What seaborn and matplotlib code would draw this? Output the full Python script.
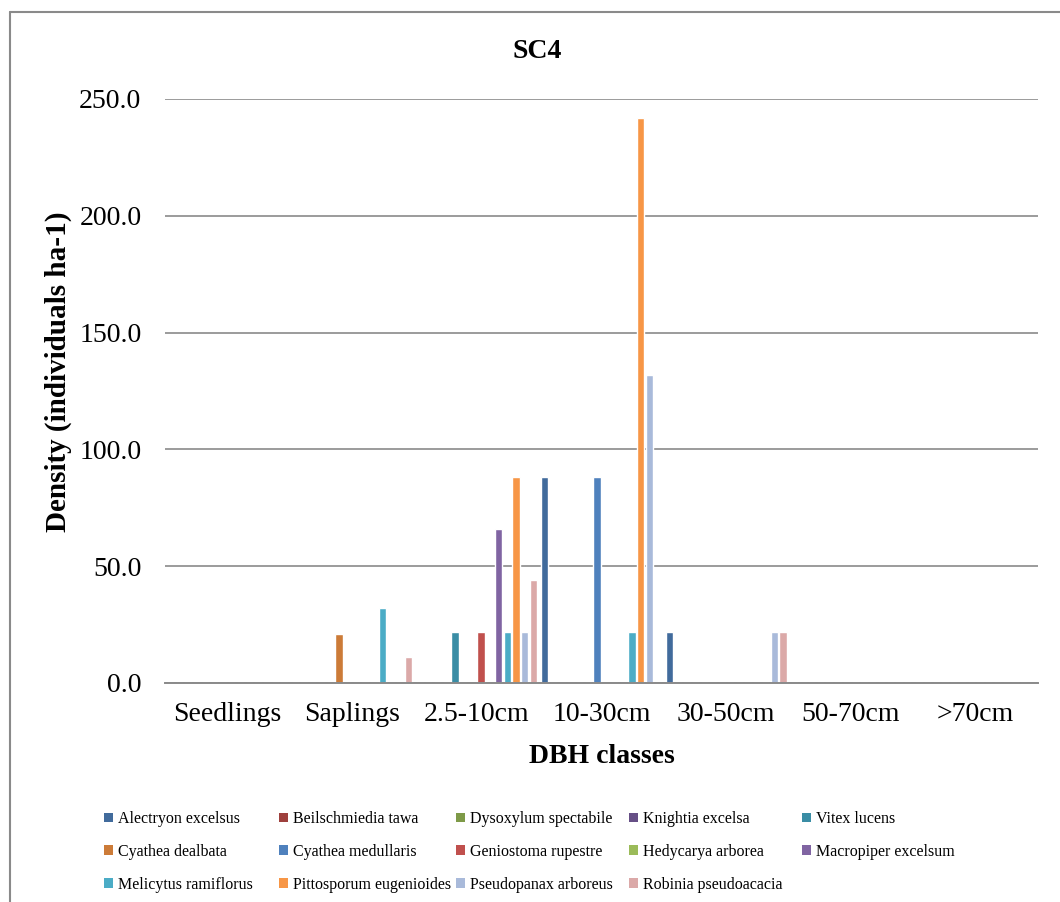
import matplotlib
matplotlib.use("Agg")
import matplotlib.pyplot as plt
from matplotlib.patches import Patch
from matplotlib.ticker import StrMethodFormatter
import pandas as pd
import seaborn as sns

# DBH classes on the x axis
classes = ["Seedlings", "Saplings", "2.5-10cm", "10-30cm", "30-50cm", "50-70cm", ">70cm"]

# Species (series order)
species = [
    "Alectryon excelsus", "Beilschmiedia tawa", "Dysoxylum spectabile",
    "Knightia excelsa", "Vitex lucens", "Cyathea dealbata",
    "Cyathea medullaris", "Geniostoma rupestre", "Hedycarya arborea",
    "Macropiper excelsum", "Melicytus ramiflorus", "Pittosporum eugenioides",
    "Pseudopanax arboreus", "Robinia pseudoacacia",
]

# Density (individuals ha-1) per species across the DBH classes
alectryon_excelsus = [0, 0, 0, 88, 22, 0, 0]
beilschmiedia_tawa = [0, 0, 0, 0, 0, 0, 0]
dysoxylum_spectabile = [0, 0, 0, 0, 0, 0, 0]
knightia_excelsa = [0, 0, 0, 0, 0, 0, 0]
vitex_lucens = [0, 0, 22, 0, 0, 0, 0]
cyathea_dealbata = [0, 21, 0, 0, 0, 0, 0]
cyathea_medullaris = [0, 0, 0, 88, 0, 0, 0]
geniostoma_rupestre = [0, 0, 22, 0, 0, 0, 0]
hedycarya_arborea = [0, 0, 0, 0, 0, 0, 0]
macropiper_excelsum = [0, 0, 66, 0, 0, 0, 0]
melicytus_ramiflorus = [0, 32, 22, 22, 0, 0, 0]
pittosporum_eugenioides = [0, 0, 88, 242, 0, 0, 0]
pseudopanax_arboreus = [0, 0, 22, 132, 22, 0, 0]
robinia_pseudoacacia = [0, 11, 44, 0, 22, 0, 0]

series_values = [
    alectryon_excelsus, beilschmiedia_tawa, dysoxylum_spectabile,
    knightia_excelsa, vitex_lucens, cyathea_dealbata, cyathea_medullaris,
    geniostoma_rupestre, hedycarya_arborea, macropiper_excelsum,
    melicytus_ramiflorus, pittosporum_eugenioides, pseudopanax_arboreus,
    robinia_pseudoacacia,
]

colors = [
    "#416B9C", "#9E403D", "#7E9A48", "#664F86", "#3A8DA5", "#CC7B38",
    "#4F81BD", "#C0504D", "#9BBB59", "#8064A2", "#4BACC6", "#F79646",
    "#A9BADA", "#DBA9A8",
]

y_ticks = [0, 50, 100, 150, 200, 250]

rows = []
for sp, vals in zip(species, series_values):
    for cls, v in zip(classes, vals):
        rows.append({"DBH class": cls, "Density": v, "Species": sp})
df = pd.DataFrame(rows)

sns.set_style("white")
plt.rcParams["font.family"] = ["Liberation Serif", "DejaVu Serif"]
plt.rcParams["text.color"] = "black"
plt.rcParams["axes.labelcolor"] = "black"

W, H = 1060, 902
fig = plt.figure(figsize=(W / 100, H / 100), dpi=100)
ax = fig.add_axes([165 / W, 1 - 683 / H, (1038 - 165) / W, (683 - 99) / H])

sns.barplot(
    data=df, x="DBH class", y="Density", hue="Species",
    order=classes, hue_order=species, palette=colors,
    width=0.98, gap=0.16, dodge=True, legend=False, ax=ax,
    errorbar=None, saturation=1,
)

ax.set_ylim(0, 250)
ax.set_xlim(-0.5, len(classes) - 0.5)
ax.set_yticks(y_ticks)
ax.yaxis.set_major_formatter(StrMethodFormatter("{x:.1f}"))
ax.grid(axis="y", color="#8A8A8A", linewidth=1.2)
ax.set_axisbelow(True)
ax.tick_params(axis="both", length=0, labelsize=20, colors="black")
ax.tick_params(axis="y", pad=17)
ax.tick_params(axis="x", pad=14)
for side in ("left", "right", "top"):
    ax.spines[side].set_visible(False)
ax.spines["bottom"].set_color("#8A8A8A")
ax.spines["bottom"].set_linewidth(1.4)
ax.spines["bottom"].set_zorder(5)

ax.set_xlabel("DBH classes", fontsize=20, fontweight="bold", labelpad=12,
              color="black")
ax.set_ylabel("")
fig.text(58 / W, 1 - 372 / H, "Density (individuals ha-1)", rotation=90,
         fontsize=21, fontweight="bold", ha="center", va="center",
         color="black")
fig.text(537 / W, 1 - 51 / H, "SC4", fontsize=20, fontweight="bold",
         ha="center", va="center", color="black")

# Outer chart frame (left and top edges)
fig.add_artist(plt.Line2D([10 / W, 10 / W], [0, 1 - 12 / H],
                          transform=fig.transFigure, color="#8A8A8A", lw=1.5))
fig.add_artist(plt.Line2D([10 / W, 1], [1 - 12 / H, 1 - 12 / H],
                          transform=fig.transFigure, color="#8A8A8A", lw=1.5))

# Legend: five equal-width columns, read row by row
ncol = 5
col_x = [104, 279, 456, 629, 802]
for c in range(ncol):
    idx = list(range(c, len(species), ncol))
    handles = [Patch(facecolor=colors[i], edgecolor="none") for i in idx]
    labels = [species[i] for i in idx]
    fig.legend(handles, labels, loc="upper left",
               bbox_to_anchor=(col_x[c] / W, 1 - 811 / H),
               frameon=False, fontsize=11.5, handlelength=0.55,
               handleheight=0.55, handletextpad=0.35, labelspacing=1.05,
               borderpad=0, borderaxespad=0, labelcolor="black")

fig.savefig("out.png", dpi=100)
